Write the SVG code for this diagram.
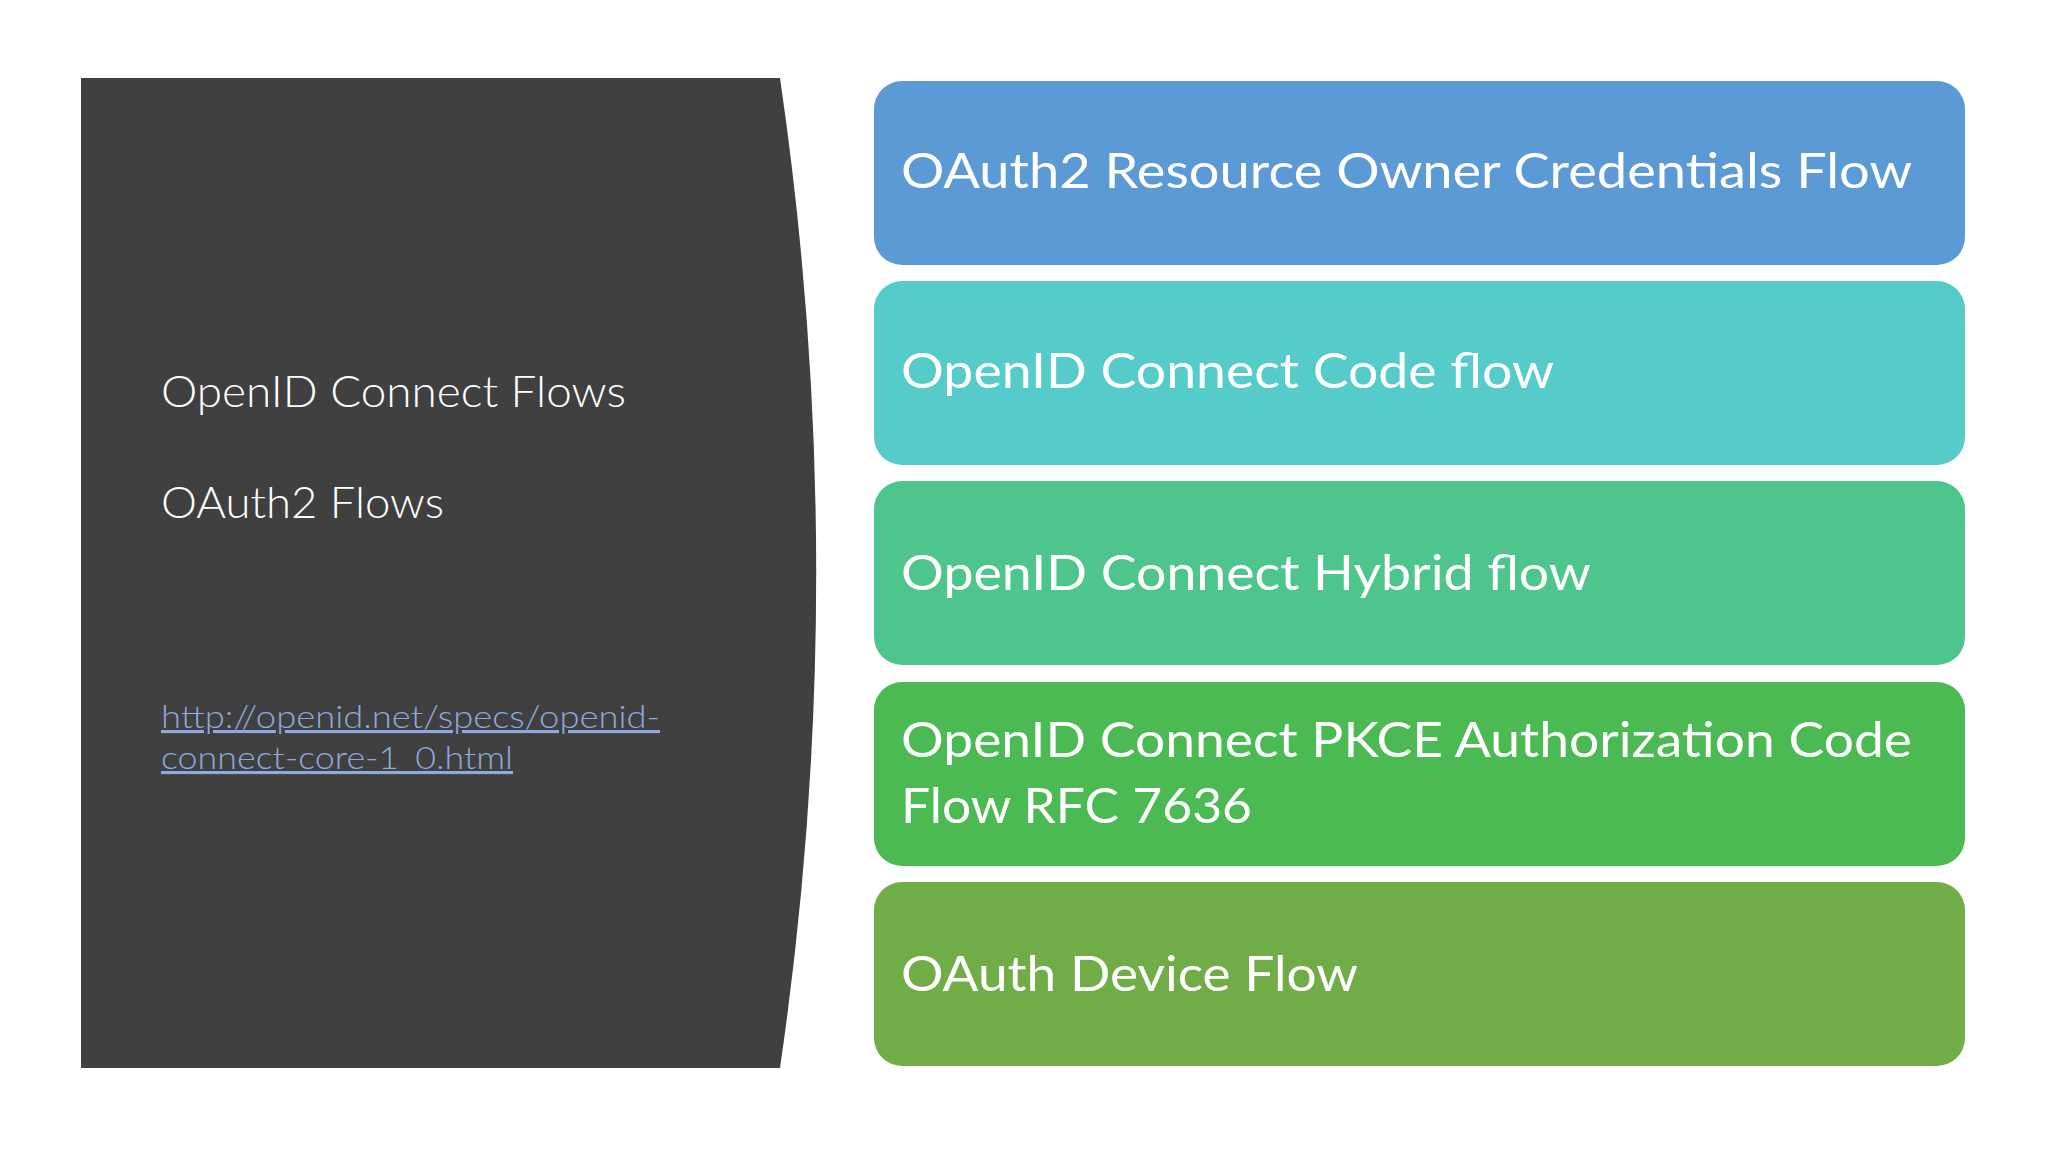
<svg xmlns="http://www.w3.org/2000/svg" width="2048" height="1152" viewBox="0 0 2048 1152">
<style>
.box{stroke:none}
.bt{font-family:Lato,"Liberation Sans",sans-serif;font-size:49px;fill:#FFFFFF}
.pt{font-family:Lato,"Liberation Sans",sans-serif;font-weight:300;font-size:44px;fill:#FFFFFF}
.lk{font-family:Lato,"Liberation Sans",sans-serif;font-weight:300;font-size:31px;fill:#8FAADC;text-decoration:underline}
</style>
<rect x="0" y="0" width="2048" height="1152" fill="#FFFFFF"/>
<g id="panel">
<path d="M81 78 H780 A3421 3421 0 0 1 780 1068 H81 Z" fill="#404040"/>
<text class="pt" x="161" y="407" textLength="465" lengthAdjust="spacingAndGlyphs">OpenID Connect Flows</text>
<text class="pt" x="161" y="518" textLength="283" lengthAdjust="spacingAndGlyphs">OAuth2 Flows</text>
<text class="lk" x="161" y="728" textLength="499" lengthAdjust="spacingAndGlyphs">http://openid.net/specs/openid-</text>
<text class="lk" x="161" y="769" textLength="352" lengthAdjust="spacingAndGlyphs">connect-core-1_0.html</text>
</g>
<g id="connectors"></g>
<g id="node-ropc">
<rect class="box" x="874" y="81" width="1091" height="184" rx="28" fill="#5B9AD5"/>
<text class="bt" x="901" y="188" textLength="1011" lengthAdjust="spacingAndGlyphs">OAuth2 Resource Owner Credentials Flow</text>
</g>
<g id="node-code">
<rect class="box" x="874" y="281" width="1091" height="184" rx="28" fill="#55CBCA"/>
<text class="bt" x="901" y="388" textLength="653" lengthAdjust="spacingAndGlyphs">OpenID Connect Code flow</text>
</g>
<g id="node-hybrid">
<rect class="box" x="874" y="481" width="1091" height="184" rx="28" fill="#4EC58D"/>
<text class="bt" x="901" y="590" textLength="690" lengthAdjust="spacingAndGlyphs">OpenID Connect Hybrid flow</text>
</g>
<g id="node-pkce">
<rect class="box" x="874" y="682" width="1091" height="184" rx="28" fill="#4BBA52"/>
<text class="bt" x="901" y="757" textLength="1011" lengthAdjust="spacingAndGlyphs">OpenID Connect PKCE Authorization Code</text>
<text class="bt" x="901" y="823" textLength="351" lengthAdjust="spacingAndGlyphs">Flow RFC 7636</text>
</g>
<g id="node-device">
<rect class="box" x="874" y="882" width="1091" height="184" rx="28" fill="#70AD47"/>
<text class="bt" x="901" y="991" textLength="457" lengthAdjust="spacingAndGlyphs">OAuth Device Flow</text>
</g>
</svg>
